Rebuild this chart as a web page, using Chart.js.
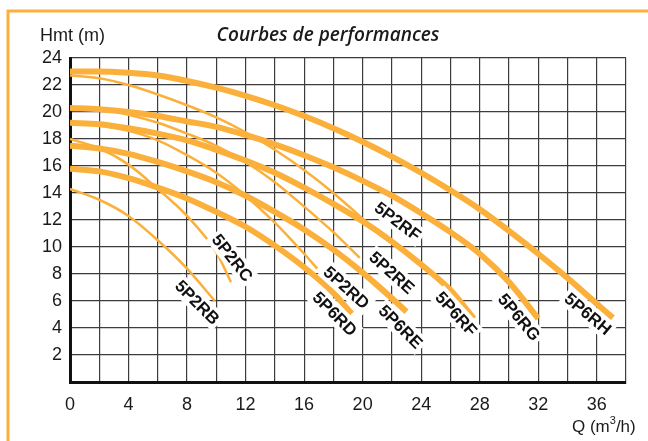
<!DOCTYPE html>
<html>
<head>
<meta charset="utf-8">
<script src="https://cdn.jsdelivr.net/npm/chart.js@4"></script>
<style>
  html, body { margin: 0; padding: 0; background: #fff; }
</style>
</head>
<body>
<canvas id="chart" width="648" height="441"></canvas>
<script>
// === DATA ===
const q5P2RB = [0, 2, 4, 6, 8, 9.9];
const h5P2RB = [14.3, 13.5, 12.3, 10.5, 8.4, 6.0];
const q5P2RC = [0, 2, 4, 6, 8, 10, 11];
const h5P2RC = [18.0, 17.3, 16.1, 14.3, 12.3, 9.6, 7.4];
const q5P2RD = [0, 2, 4, 6, 8, 10, 12, 14, 16, 16.9];
const h5P2RD = [19.2, 19.0, 18.6, 17.9, 16.8, 15.5, 13.8, 11.8, 9.5, 8.4];
const q5P2RE = [0, 2, 4, 6, 8, 10, 12, 14, 16, 18, 19.8];
const h5P2RE = [20.3, 20.2, 19.8, 19.2, 18.4, 17.5, 16.3, 14.8, 13.0, 11.1, 9.2];
const q5P2RF = [0, 2, 4, 6, 8, 10, 12, 14, 16, 18, 20, 20.6];
const h5P2RF = [22.7, 22.5, 22.0, 21.3, 20.5, 19.6, 18.5, 17.2, 15.7, 14.0, 12.1, 11.5];

const q5P6RD = [0, 2, 4, 6, 8, 10, 12, 14, 16, 18, 19.25];
const h5P6RD = [15.8, 15.6, 15.1, 14.4, 13.6, 12.6, 11.5, 10.1, 8.5, 6.6, 5.05];
const q5P6RE = [0, 2, 4, 6, 8, 10, 12, 14, 16, 18, 20, 22, 23];
const h5P6RE = [17.5, 17.3, 16.9, 16.3, 15.6, 14.8, 13.8, 12.6, 11.3, 9.8, 8.1, 6.2, 5.2];
const q5P6RF = [0, 2, 4, 6, 8, 10, 12, 14, 16, 18, 20, 22, 24, 26, 27.6];
const h5P6RF = [19.2, 19.1, 18.8, 18.4, 17.9, 17.2, 16.4, 15.5, 14.4, 13.2, 11.9, 10.4, 8.7, 6.8, 4.7];
const q5P6RG = [0, 2, 4, 6, 8, 10, 12, 14, 16, 18, 20, 22, 24, 26, 28, 30, 32];
const h5P6RG = [20.3, 20.2, 20.0, 19.7, 19.3, 18.9, 18.3, 17.6, 16.8, 15.9, 14.9, 13.8, 12.5, 11.1, 9.5, 7.4, 4.7];
const q5P6RH = [0, 2, 4, 6, 8, 10, 12, 14, 16, 18, 20, 22, 24, 26, 28, 30, 32, 34, 36, 37.1];
const h5P6RH = [23.0, 23.0, 22.9, 22.7, 22.3, 21.8, 21.2, 20.5, 19.7, 18.8, 17.8, 16.7, 15.5, 14.2, 12.8, 11.2, 9.5, 7.7, 5.8, 4.75];

// curve names and where their tags sit (Q, H, angle in degrees)
const tagNames = ["5P2RB", "5P2RC", "5P2RD", "5P6RD", "5P2RE", "5P6RE", "5P2RF", "5P6RF", "5P6RG", "5P6RH"];
const tagQ = [8.7, 11.1, 18.9, 18.1, 22.0, 22.6, 22.4, 26.4, 30.7, 35.4];
const tagH = [5.9, 9.2, 7.0, 5.05, 8.1, 4.1, 11.9, 5.05, 4.8, 5.05];
const tagAngle = [45, 52, 42, 45, 42, 45, 37, 48, 50, 40];

const xTicks = [0, 4, 8, 12, 16, 20, 24, 28, 32, 36];
const yTicks = [2, 4, 6, 8, 10, 12, 14, 16, 18, 20, 22, 24];

// === STYLE ===
const orange = "#FBB03B";
const thin = 2.5;
const thick = 6;
const sans = "'Liberation Sans', Arial, sans-serif";

function pts(q, h) {
  return q.map((v, i) => ({ x: v, y: h[i] }));
}

function curve(label, q, h, width) {
  return {
    label: label,
    data: pts(q, h),
    borderColor: orange,
    borderWidth: width,
    pointRadius: 0,
    fill: false,
    cubicInterpolationMode: "monotone",
    borderCapStyle: "butt"
  };
}

const datasets = [
  curve("5P6RH", q5P6RH, h5P6RH, thick),
  curve("5P6RG", q5P6RG, h5P6RG, thick),
  curve("5P6RF", q5P6RF, h5P6RF, thick),
  curve("5P6RE", q5P6RE, h5P6RE, thick),
  curve("5P6RD", q5P6RD, h5P6RD, thick),
  curve("5P2RF", q5P2RF, h5P2RF, thin),
  curve("5P2RE", q5P2RE, h5P2RE, thin),
  curve("5P2RD", q5P2RD, h5P2RD, thin),
  curve("5P2RC", q5P2RC, h5P2RC, thin),
  curve("5P2RB", q5P2RB, h5P2RB, thin)
];

// frame, titles and curve tags
const decor = {
  id: "decor",
  beforeDraw(chart) {
    const ctx = chart.ctx;
    ctx.save();
    ctx.fillStyle = "#fff";
    ctx.fillRect(0, 0, chart.width, chart.height);
    ctx.strokeStyle = orange;
    ctx.lineWidth = 3;
    ctx.strokeRect(8, 11, 800, 600);
    ctx.restore();
  },
  afterDatasetsDraw(chart) {
    const ctx = chart.ctx;
    const xs = chart.scales.x, ys = chart.scales.y;
    ctx.save();
    ctx.fillStyle = "#1a1a1a";
    ctx.textBaseline = "alphabetic";

    ctx.font = "18px " + sans;
    ctx.textAlign = "left";
    ctx.fillText("Hmt (m)", 40, 41);

    ctx.font = "italic 600 19px 'Open Sans', sans-serif";
    ctx.textAlign = "center";
    ctx.fillText("Courbes de performances", 328, 41);

    // Q (m3/h) with superscript
    ctx.font = "17px " + sans;
    ctx.textAlign = "left";
    let x = 572;
    const base = 432;
    ctx.fillText("Q (m", x, base);
    x += ctx.measureText("Q (m").width;
    ctx.font = "11px " + sans;
    ctx.fillText("3", x, base - 8);
    x += ctx.measureText("3").width;
    ctx.font = "17px " + sans;
    ctx.fillText("/h)", x, base);

    // tags on the curves
    ctx.font = "bold 17px " + sans;
    ctx.textAlign = "center";
    ctx.textBaseline = "middle";
    tagNames.forEach((name, i) => {
      const px = xs.getPixelForValue(tagQ[i]);
      const py = ys.getPixelForValue(tagH[i]);
      const w = ctx.measureText(name).width;
      ctx.save();
      ctx.translate(px, py);
      ctx.rotate(tagAngle[i] * Math.PI / 180);
      ctx.fillStyle = "#fff";
      ctx.fillRect(-w / 2 - 3, -10, w + 6, 20);
      ctx.fillStyle = "#111";
      ctx.fillText(name, 0, 1);
      ctx.restore();
    });
    ctx.restore();
  }
};

new Chart(document.getElementById("chart"), {
  type: "line",
  data: { datasets: datasets },
  options: {
    responsive: false,
    devicePixelRatio: 1,
    animation: false,
    layout: { padding: { top: 58, right: 22, left: 0, bottom: 0 } },
    plugins: { legend: { display: false }, tooltip: { enabled: false } },
    scales: {
      x: {
        type: "linear",
        min: 0,
        max: 38,
        afterFit: s => { s.height = 59; },
        afterBuildTicks: s => {
          s.ticks = [];
          for (let v = 0; v <= 38; v += 2) s.ticks.push({ value: v });
        },
        ticks: {
          color: "#1a1a1a",
          font: { family: sans, size: 18 },
          padding: 12,
          maxRotation: 0,
          autoSkip: false,
          callback: v => xTicks.includes(v) ? String(v) : ""
        },
        grid: { color: "#3c3c3c", lineWidth: 1.2, drawTicks: false },
        border: { color: "#111", width: 3 }
      },
      y: {
        type: "linear",
        min: 0,
        max: 24,
        afterFit: s => { s.width = 70; },
        afterBuildTicks: s => {
          s.ticks = [];
          for (let v = 0; v <= 24; v += 2) s.ticks.push({ value: v });
        },
        ticks: {
          color: "#1a1a1a",
          font: { family: sans, size: 18 },
          padding: 8,
          autoSkip: false,
          callback: v => yTicks.includes(v) ? String(v) : ""
        },
        grid: { color: "#3c3c3c", lineWidth: 1.2, drawTicks: false },
        border: { color: "#111", width: 3 }
      }
    }
  },
  plugins: [decor]
});
</script>
</body>
</html>
